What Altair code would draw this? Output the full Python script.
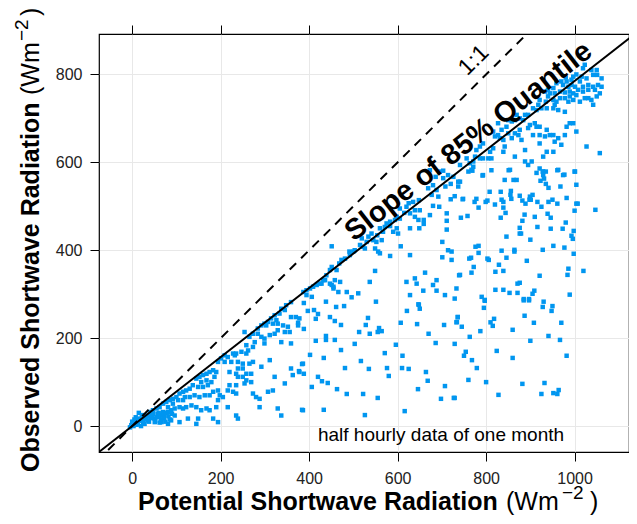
import altair as alt
import pandas as pd

# (potential, observed) pairs
points = [
    # lower right scatter
    (797, 285), (795, 269), (885, 286), (897, 286), (930, 283), (928, 271), (950, 273), (948, 262),
    (736, 248), (733, 236), (745, 226), (810, 236), (818, 244), (815, 228), (887, 251), (908, 235),
    (970, 235), (787, 216), (860, 219), (763, 203), (941, 205), (900, 194), (967, 196), (824, 171),
    (754, 169), (750, 160), (768, 150), (860, 155), (982, 160), (779, 132), (760, 105), (800, 100),
    (882, 96), (932, 98), (828, 71), (925, 73), (952, 75), (961, 73), (964, 82), (729, 64), (729, 187),
    (388, 280), (438, 283), (461, 271), (479, 273), (551, 283), (648, 276), (650, 267), (411, 264),
    (420, 255), (397, 262), (447, 248), (415, 244), (458, 239), (472, 230), (533, 246), (528, 230),
    (513, 214), (537, 210), (558, 223), (564, 216), (555, 214), (621, 262), (607, 235), (644, 232),
    (670, 210), (705, 230), (736, 248), (734, 237), (370, 248), (375, 235), (388, 221), (438, 205),
    (438, 196), (415, 194), (458, 196), (503, 187), (596, 185), (686, 189), (472, 173), (571, 166),
    (611, 160), (402, 162), (433, 155), (517, 148), (384, 141), (481, 132), (535, 130), (576, 132),
    (610, 132), (625, 130), (377, 125), (388, 119), (580, 114), (664, 123), (420, 112), (429, 102),
    (442, 98), (668, 103), (406, 89), (463, 84), (646, 84), (707, 91), (485, 73), (522, 73), (555, 64),
    (698, 62), (727, 64), (384, 37), (433, 37), (616, 34), (526, 25),
    # middle right scatter
    (769, 581), (812, 582), (851, 582), (914, 576), (928, 579), (935, 579), (961, 582), (1000, 579),
    (977, 572), (792, 570), (842, 560), (862, 560), (923, 558), (931, 563), (935, 551), (941, 542),
    (968, 545), (1004, 549), (741, 556), (808, 533), (833, 533), (856, 535), (855, 526), (857, 517),
    (876, 524), (905, 526), (899, 522), (901, 515), (898, 515), (882, 513), (889, 506), (916, 510),
    (941, 510), (950, 515), (961, 506), (982, 519), (1004, 506), (1007, 506), (748, 517), (778, 517),
    (774, 510), (799, 510), (803, 513), (820, 504), (835, 515), (839, 510), (839, 497), (783, 497),
    (844, 485), (925, 499), (887, 481), (910, 476), (946, 474), (939, 483), (1000, 490), (1047, 492),
    (758, 478), (743, 474), (833, 474), (882, 467), (980, 463), (916, 453), (876, 451), (946, 449),
    (973, 449), (998, 444), (876, 438), (879, 438), (993, 433), (996, 426), (846, 431), (900, 424),
    (783, 410), (776, 408), (952, 410), (977, 406), (835, 399), (864, 401), (864, 397), (928, 401),
    (783, 394), (998, 392), (766, 383), (803, 381), (806, 378), (846, 383), (892, 376), (829, 367),
    (772, 362), (839, 353), (821, 351), (767, 349), (986, 358), (1020, 353), (984, 344), (921, 342),
    (741, 344), (876, 326), (871, 324), (909, 308), (905, 301), (821, 310), (839, 310), (853, 303),
    (871, 303), (989, 299), (790, 294), (797, 287), (885, 289), (897, 289),
    # middle band
    (695, 579), (703, 581), (714, 571), (726, 567), (737, 556), (720, 551), (708, 545), (703, 564),
    (686, 567), (680, 548), (669, 541), (688, 537), (677, 526), (692, 522), (648, 514), (635, 510),
    (625, 507), (620, 499), (605, 495), (615, 485), (639, 491), (628, 484), (650, 491), (639, 476),
    (647, 469), (659, 460), (649, 450), (628, 450), (605, 472), (598, 476), (594, 469), (583, 465),
    (575, 461), (571, 453), (560, 450), (567, 442), (590, 442), (601, 438), (598, 450), (583, 455),
    (554, 434), (541, 438), (534, 431), (530, 419), (519, 427), (515, 412), (503, 400), (500, 397),
    (492, 389), (491, 397), (481, 381), (473, 378), (468, 370), (462, 355), (451, 362), (447, 355),
    (439, 343), (432, 332), (424, 324), (417, 321), (409, 317), (402, 313), (394, 309), (387, 305),
    (406, 294), (394, 298), (451, 321), (458, 332), (470, 328), (455, 317), (428, 324), (436, 332),
    (447, 324), (455, 313), (466, 305), (485, 305), (496, 293), (511, 302), (537, 328), (549, 353),
    (583, 387), (560, 393), (556, 397), (549, 404), (552, 419), (564, 423), (545, 423), (522, 408),
    (526, 404), (451, 409), (628, 389), (607, 409), (620, 328), (643, 324), (639, 336), (662, 349),
    (680, 321), (688, 332), (658, 308), (688, 308), (628, 298), (647, 277), (707, 298), (729, 290),
    (733, 313), (739, 343), (762, 381), (722, 378), (714, 400), (722, 397), (701, 384), (701, 419),
    (711, 467), (711, 484), (747, 516), (729, 523), (720, 516), (737, 545), (673, 582), (694, 499),
    (680, 501), (673, 480), (659, 469), (711, 447),
    # upper right cluster
    (1023, 822), (1019, 814), (1038, 810), (1050, 810), (1051, 799), (1061, 791), (1042, 799),
    (1027, 791), (1016, 795), (1004, 800), (997, 795), (993, 788), (980, 793), (970, 784), (982, 784),
    (1012, 784), (1031, 776), (1019, 772), (1042, 772), (1053, 776), (1061, 772), (1031, 765),
    (1019, 761), (1008, 765), (1001, 772), (993, 776), (986, 772), (974, 776), (959, 780), (952, 769),
    (940, 765), (933, 761), (944, 757), (955, 757), (967, 761), (978, 759), (989, 761), (997, 757),
    (1004, 753), (989, 750), (978, 746), (967, 746), (959, 738), (952, 742), (940, 750), (935, 738),
    (921, 742), (918, 731), (906, 723), (914, 719), (925, 723), (937, 723), (952, 723), (963, 719),
    (978, 715), (955, 731), (986, 738), (997, 742), (1012, 738), (1023, 746), (1031, 746), (1038, 742),
    (1050, 750), (1057, 757), (1042, 731), (1046, 765), (989, 689), (997, 689), (1004, 670), (982, 681),
    (978, 662), (970, 640), (963, 655), (944, 662), (952, 662), (933, 659), (921, 662), (937, 674),
    (921, 681), (914, 681), (910, 689), (899, 685), (906, 662), (895, 678), (895, 708), (888, 708),
    (884, 696), (876, 700), (869, 708), (865, 696), (858, 693), (850, 696), (846, 681), (835, 674),
    (827, 662), (820, 659), (831, 655), (839, 651), (827, 689), (816, 670), (850, 666), (865, 666),
    (873, 662), (876, 674), (880, 651), (858, 655), (839, 624), (842, 636), (816, 632), (809, 624),
    (793, 643), (786, 636), (778, 628), (786, 609), (793, 609), (805, 609), (812, 609), (775, 613),
    (771, 602), (763, 598), (756, 609), (771, 590), (767, 583), (760, 579), (921, 643), (937, 624),
    (929, 613), (888, 602), (895, 594), (903, 602), (921, 586), (929, 579), (888, 628), (865, 613),
    (963, 583), (974, 571), (1001, 579), (1057, 621), (1027, 636), (955, 647), (952, 624), (929, 571),
    (793, 571), (854, 583), (869, 560), (741, 594),
    # lower band
    (359, 282), (348, 275), (337, 267), (345, 264), (333, 256), (322, 252), (314, 245), (326, 241),
    (307, 237), (299, 233), (292, 229), (284, 222), (303, 229), (318, 233), (329, 233), (341, 229),
    (352, 226), (356, 214), (345, 214), (329, 218), (322, 210), (311, 207), (299, 199), (299, 188),
    (284, 210), (273, 210), (265, 203), (254, 214), (277, 191), (273, 180), (262, 172), (258, 165),
    (247, 169), (235, 165), (228, 165), (232, 161), (216, 157), (209, 161), (201, 154), (194, 146),
    (209, 146), (224, 146), (239, 146), (250, 142), (273, 146), (292, 135), (311, 150), (337, 191),
    (359, 188), (378, 245), (375, 229), (359, 248), (190, 123), (183, 127), (175, 123), (168, 119),
    (160, 116), (152, 112), (145, 108), (156, 100), (168, 104), (179, 100), (186, 112), (171, 93),
    (160, 89), (149, 89), (137, 93), (130, 85), (122, 81), (115, 78), (107, 74), (100, 66), (92, 62),
    (85, 59), (77, 55), (70, 51), (62, 43), (55, 40), (47, 36), (40, 32), (32, 24), (24, 21), (17, 17),
    (9, 13), (2, 9), (-2, 2), (5, 5), (13, 9), (21, 13), (28, 17), (43, 24), (58, 28), (70, 32),
    (81, 43), (92, 51), (104, 59), (115, 59), (119, 66), (130, 66), (141, 70), (152, 66), (164, 70),
    (175, 70), (183, 78), (194, 81), (198, 70), (190, 43), (175, 36), (168, 40), (156, 36), (145, 43),
    (134, 47), (122, 43), (115, 40), (107, 43), (96, 40), (88, 36), (81, 32), (73, 24), (62, 21),
    (51, 17), (43, 21), (36, 13), (51, 9), (66, 9), (81, 5), (88, 13), (96, 24), (107, 9), (126, 17),
    (149, 17), (183, 17), (194, 9), (145, 5), (216, 81), (228, 78), (235, 74), (220, 93), (235, 93),
    (254, 97), (269, 100), (280, 66), (288, 62), (273, 74), (307, 78), (318, 81), (322, 112), (250, 112),
    (258, 104), (239, 112), (235, 119), (258, 119), (269, 119), (288, 43), (329, 40), (337, 24),
    (235, 24), (239, 17), (216, 43), (194, 59), (205, 66), (220, 123), (239, 131), (250, 131),
    (265, 142), (359, 131), (363, 116), (345, 97), (378, 123), (386, 142), (386, 36), (258, 184),
    (292, 203),
    # dense cluster near the origin
    (0, 10), (5, 15), (8, 20), (12, 5), (18, 12), (22, 25), (25, 8), (30, 15), (35, 22), (38, 10),
    (45, 18), (48, 28), (52, 12), (55, 20), (60, 30), (62, 8), (65, 15), (68, 25), (72, 18), (75, 10),
    (78, 30), (82, 22), (85, 15), (90, 28), (-5, -3), (3, 0), (10, 3), (15, 30), (20, 0), (28, 5),
]

pot = [p[0] for p in points]
obs = [p[1] for p in points]

x_ticks = [0, 200, 400, 600, 800, 1000]
y_ticks = [0, 200, 400, 600, 800]
x_domain = [-75, 1123]
y_domain = [-59, 892]

quantile_slope = 0.785
line_x = [-80, 1140]

FONT = "Liberation Sans"
BLUE = "#0096F0"

df = pd.DataFrame({"pot": pot, "obs": obs})
lines = pd.DataFrame({
    "x": line_x + line_x,
    "y": [v for v in line_x] + [quantile_slope * v for v in line_x],
    "kind": ["1:1", "1:1", "q", "q"],
})

xs = alt.Scale(domain=x_domain, nice=False, zero=False)
ys = alt.Scale(domain=y_domain, nice=False, zero=False)

ax_common = dict(tickSize=9, tickColor="black", tickWidth=1, domain=False, format="d",
                 labelFont=FONT, labelFontSize=16, labelColor="#222", title=None)

points_layer = alt.Chart(df).mark_square(size=20, color=BLUE, opacity=1).encode(
    x=alt.X("pot:Q", scale=xs, axis=alt.Axis(orient="bottom", values=x_ticks, grid=True,
                                              gridColor="#e8e8e8", labelPadding=9, **ax_common)),
    y=alt.Y("obs:Q", scale=ys, axis=alt.Axis(orient="left", values=y_ticks, grid=True,
                                              gridColor="#e8e8e8", labelPadding=8, **ax_common)),
)

one_one = alt.Chart(lines[lines.kind == "1:1"]).mark_line(
    color="black", strokeWidth=2, strokeDash=[9, 7], clip=True
).encode(
    x=alt.X("x:Q", scale=xs, axis=alt.Axis(orient="top", values=x_ticks, labels=False, grid=False, **ax_common)),
    y=alt.Y("y:Q", scale=ys, axis=alt.Axis(orient="right", values=y_ticks, labels=False, grid=False, **ax_common)),
)

quant = alt.Chart(lines[lines.kind == "q"]).mark_line(
    color="black", strokeWidth=2, clip=True
).encode(
    x=alt.X("x:Q", scale=xs, axis=None),
    y=alt.Y("y:Q", scale=ys, axis=None),
)

ann = pd.DataFrame({
    "x": [772, 760, 698],
    "y": [832, 648, -21],
    "label": ["1:1", "Slope of 85% Quantile", "half hourly data of one month"],
})

t11 = alt.Chart(ann.iloc[[0]]).mark_text(font=FONT, fontSize=23, angle=315, baseline="middle").encode(
    x=alt.X("x:Q", scale=xs, axis=None), y=alt.Y("y:Q", scale=ys, axis=None), text="label:N")
tslope = alt.Chart(ann.iloc[[1]]).mark_text(font=FONT, fontSize=29, fontWeight="bold", angle=322,
                                            baseline="middle").encode(
    x=alt.X("x:Q", scale=xs, axis=None), y=alt.Y("y:Q", scale=ys, axis=None), text="label:N")
thalf = alt.Chart(ann.iloc[[2]]).mark_text(font=FONT, fontSize=19, baseline="middle").encode(
    x=alt.X("x:Q", scale=xs, axis=None), y=alt.Y("y:Q", scale=ys, axis=None), text="label:N")

dummy = pd.DataFrame({"a": [0]})

def title_piece(text, x, y, size, weight="normal", angle=0):
    return alt.Chart(dummy).mark_text(
        text=text, font=FONT, fontSize=size, fontWeight=weight, angle=angle,
        align="left", baseline="alphabetic", color="black"
    ).encode(x=alt.value(x), y=alt.value(y))

# x-axis title pieces
xt_y = 476
xt = [
    title_piece("Potential Shortwave Radiation", 39, xt_y, 25, "bold"),
    title_piece("(Wm", 407, xt_y, 25),
    title_piece("\u22122", 463, xt_y - 11, 19),
    title_piece(")", 491, xt_y, 25),
]
# y-axis title pieces (rotated)
yt_x = -60
yt = [
    title_piece("Observed Shortwave Radiation", yt_x, 438, 25, "bold", 270),
    title_piece("(Wm", yt_x, 61, 25, angle=270),
    title_piece("\u22122", yt_x - 11, 7, 19, angle=270),
    title_piece(")", yt_x, -18, 25, angle=270),
]

chart = alt.layer(points_layer, one_one, quant, t11, tslope, thalf, *xt, *yt).resolve_axis(
    x="independent", y="independent"
).properties(
    width=530, height=418,
    autosize=alt.AutoSizeParams(type="none"),
    padding={"left": 91, "top": 26, "right": 0, "bottom": 63},
).configure_view(stroke="black", strokeWidth=1.2)

chart.save("out.html", embed_options={"renderer": "svg", "actions": False})
